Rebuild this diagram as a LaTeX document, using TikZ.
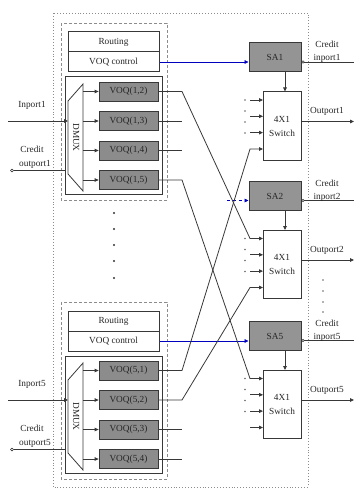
\documentclass[tikz,border=0pt]{standalone}
\usepackage{fontspec}
\setmainfont{Liberation Serif}
\usetikzlibrary{arrows.meta}

\begin{document}
\begin{tikzpicture}[x=1pt,y=-1pt,
  every node/.style={font=\fontsize{9.3}{14}\selectfont, text=black!85, inner sep=0pt},
  ln/.style={draw=black!78, line width=0.8pt},
  arr/.style={-{Triangle[length=4pt,width=3.6pt]}},
  voqbox/.style={ln, fill=black!45, minimum width=59pt, minimum height=19pt},
  ctrlbox/.style={ln, line width=1pt, fill=white, minimum width=91pt, minimum height=20pt},
  sabox/.style={ln, line width=1pt, fill=black!42, minimum width=52pt, minimum height=29pt},
  swbox/.style={ln, line width=1pt, fill=white, minimum width=38pt, minimum height=68pt, align=center},
  grpframe/.style={draw=black!45, line width=0.8pt, dash pattern=on 3pt off 2pt},
  outerframe/.style={draw=black!45, line width=0.9pt, dotted},
  bigdot/.style={circle, fill=black!80, minimum size=2.4pt},
  tinydot/.style={circle, fill=black!60, minimum size=1.6pt},
  ctl/.style={draw=blue!75!black, line width=0.5pt, -{Triangle[length=4pt,width=3.6pt]}},
  credit/.style={ln, line width=0.6pt},
]
\path[use as bounding box] (0,0) rectangle (354,489);

% router boundary
\draw[outerframe] (53,13) rectangle (308,487);

% input port groups (port 1 and port 5)
\foreach \g/\dy/\la/\lb/\lc/\ld in {1/0/{1,2}/{1,3}/{1,4}/{1,5}, 5/279/{5,1}/{5,2}/{5,3}/{5,4}}{
  \begin{scope}[shift={(0,\dy)}]
    \draw[grpframe] (61,23) rectangle (167,200);
    \node[ctrlbox] (rt\g) at (113.5,42) {Routing};
    \node[ctrlbox] (vc\g) at (113.5,62) {VOQ control};
    \node[draw=black!78, line width=1pt, minimum width=97pt, minimum height=117pt] (ib\g) at (113.5,135.5) {};
    % demultiplexer
    \draw[ln] (68,101) -- (83,84) -- (83,191) -- (68,174) -- cycle;
    \node[rotate=-90] (dm\g) at (76,137.5) {DMUX};
    \coordinate (dmin\g) at (68,121);
    \coordinate (dr\g) at (83,0);
    \coordinate (st\g) at (182,0);
    % virtual output queues
    \node[voqbox] (q\g-1) at (128.5,91.5) {VOQ(\la)};
    \node[voqbox] (q\g-2) at (128.5,121) {VOQ(\lb)};
    \node[voqbox] (q\g-3) at (128.5,150.5) {VOQ(\lc)};
    \node[voqbox] (q\g-4) at (128.5,180) {VOQ(\ld)};
    \foreach \k in {1,...,4}{
      \draw[ln, arr] (q\g-\k.west -| dr\g) -- (q\g-\k.west);
    }
    % input and credit signals
    \coordinate (inl\g) at (8,121);
    \draw[ln, arr] (inl\g) -- (dmin\g);
    \node (il\g) at (32,105) {Inport\g};
    \coordinate (col\g) at (10,170.5);
    \draw[credit, {Diamond[open,length=4pt,width=3.5pt]}-] (col\g) -- (ib\g.west |- col\g);
    \node (cl\g) at (32,149) {Credit};
    \node (co\g) at (35,164) {outport\g};
  \end{scope}
}

% output side: switch allocators and 4x1 switches
\foreach \s/\off in {1/0, 2/138.5, 5/278.5}{
  \begin{scope}[shift={(0,\off)}]
    \node[sabox] (sa\s) at (275,57.5) {SA\s};
    \node[swbox] (sw\s) at (282,126) {4X1\\Switch};
    \coordinate (ax\s) at (285,0);
    \draw[ln, arr] (sa\s.south -| ax\s) -- (sw\s.north -| ax\s);
    \foreach \k/\y in {1/100, 2/116.3, 3/132.6, 4/149}{
      \coordinate (ia\s-\k) at (250,\y);
      \coordinate (in\s-\k) at (263,\y);
    }
    \foreach \y in {100,111,122,133}{
      \node[tinydot] at (245,\y) {};
    }
    \coordinate (op\s) at (354,121.5);
    \draw[ln, arr] (sw\s.east |- op\s) -- (op\s);
    \node (ol\s) at (327,111.5) {Outport\s};
    \coordinate (ci\s) at (354,62);
    \draw[credit, {Circle[open,length=3pt]}-] (sa\s.east |- ci\s) -- (ci\s);
    \node[anchor=base] (cc\s) at (327,48) {Credit};
    \node[anchor=base] (cn\s) at (327,60.5) {inport\s};
  \end{scope}
}

% control links from VOQ control to the allocators
\draw[ctl] (vc1.east) -- (sa1.west |- vc1.east);
\draw[ctl] (vc5.east) -- (sa5.west |- vc5.east);
\coordinate (bl2) at (227,200.5);
\draw[ctl, dashed] (bl2) -- (sa2.west |- bl2);

% direct switch inputs
\foreach \p in {1-1,1-2,1-3,2-2,2-3,5-2,5-3,5-4}{
  \draw[ln, arr] (ia\p) -- (in\p);
}

% VOQ outputs crossing to the switches
\draw[ln, arr] (q1-1.east) -- (q1-1.east -| st1) -- (ia2-1) -- (in2-1);
\draw[ln, arr] (q1-4.east) -- (q1-4.east -| st1) -- (ia5-1) -- (in5-1);
\draw[ln, arr] (q5-1.east) -- (q5-1.east -| st5) -- (ia1-4) -- (in1-4);
\draw[ln, arr] (q5-2.east) -- (q5-2.east -| st5) -- (ia2-4) -- (in2-4);
\foreach \q in {1-2,1-3,5-3,5-4}{
  \draw[ln] (q\q.east) -- (q\q.east -| st1);
}

% ports 3 and 4 omitted
\foreach \y in {213,229,245,261,278}{
  \node[bigdot] at (114,\y) {};
}
\foreach \y in {280,291,302,312}{
  \node[tinydot] at (323,\y) {};
}
\end{tikzpicture}
\end{document}
